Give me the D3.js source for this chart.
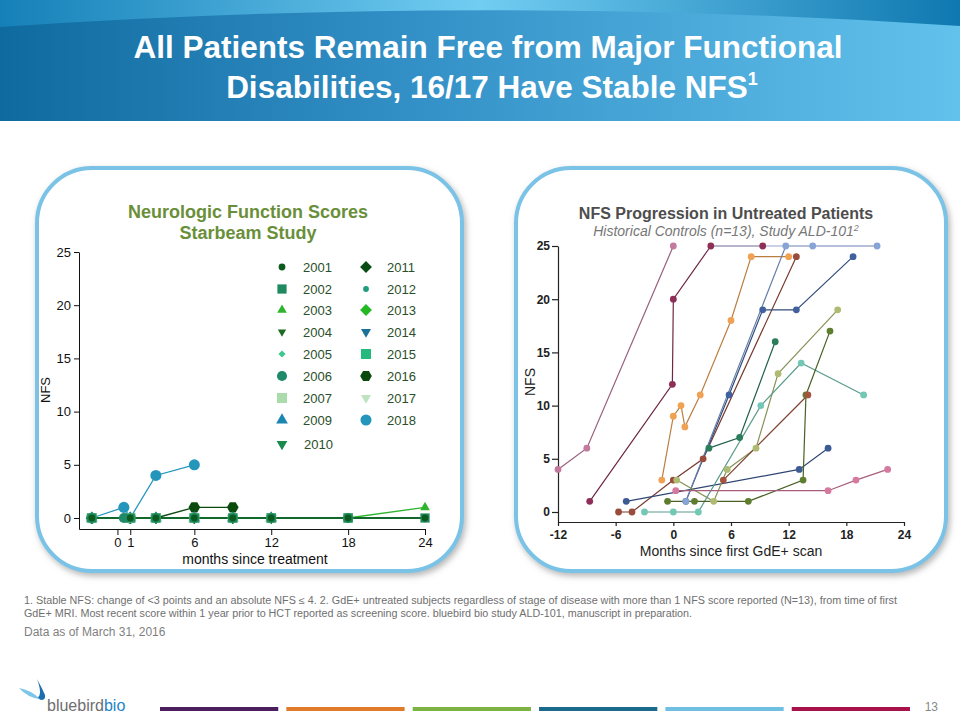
<!DOCTYPE html>
<html><head><meta charset="utf-8">
<script src="https://cdn.jsdelivr.net/npm/d3@7"></script>
<style>
body{margin:0;background:#fff;}
svg{display:block;font-family:"Liberation Sans",Arial,sans-serif;}
</style>
</head><body>
<svg id="c" width="960" height="720"></svg>
<script>
// ---------------- DATA ----------------
const titleLines = ["All Patients Remain Free from Major Functional", "Disabilities, 16/17 Have Stable NFS"];

// Left chart: Starbeam study
const patients = ["2001","2002","2003","2004","2005","2006","2007","2009","2010","2011","2012","2013","2014","2015","2016","2017","2018"];
const patientColors = ["#0b5b1e","#1f8a5f","#2db52d","#1b6b22","#3ec78e","#1e8a6a","#a9dcaa","#1b86b0","#1a8a4e","#0a4d12","#1f9c7c","#25b825","#1b7196","#25ba7d","#0a4a0e","#bfe3c0","#2496bc"];
const patientShapes = ["circle","square","triUp","triDown","diamond","circle","square","triUp","triDown","diamond","circle","diamond","triDown","square","hexagon","triDown","circle"];
const patientMarkerSizes = [36,85,40,30,26,80,100,60,50,70,26,70,44,100,88,44,96];
const patientMonths = [
  [-2,1,3,6,9,12,18,24],
  [-2,1,3,6,9,12,18,24],
  [-2,1,3,6,9,12,18,24],
  [-2,1,3,6,9,12,18,24],
  [-2,1,3,6,9,12,18],
  [-2,0.5,3,6,9,12,18],
  [-2,1,3,6,9,12,18],
  [-2,1,3,6,9,12],
  [-2,1,3,6,9,12],
  [-2,1,3,6,9,12],
  [-2,0.5,3,6,9,12],
  [-2,1,3,6,9],
  [-2,1,3,6,9],
  [-2,1,3,6],
  [-2,1,3,6,9],
  [-2,1,3,6],
  [-2,0.5,1,3,6]
];
const patientNFS = [
  [0,0,0,0,0,0,0,0],
  [0,0,0,0,0,0,0,0],
  [0,0,0,0,0,0,0,1],
  [0,0,0,0,0,0,0,0],
  [0,0,0,0,0,0,0],
  [0,0,0,0,0,0,0],
  [0,0,0,0,0,0,0],
  [0,0,0,0,0,0],
  [0,0,0,0,0,0],
  [0,0,0,0,0,0],
  [0,0,0,0,0,0],
  [0,0,0,0,0],
  [0,0,0,0,0],
  [0,0,0,0],
  [0,0,0,1,1],
  [0,0,0,0],
  [0,1,0,4,5]
];
const leftXTicks = [0,1,6,12,18,24];
const leftYTicks = [0,5,10,15,20,25];

// Right chart: untreated historical controls
const ctrlMonths = [
  [-12,-9,0],
  [-8.7,-0.1,0,3.9,9.3],
  [-1.2,0,0.8,1.2,2.8,6,8.1,12],
  [-5.7,-4.3,0,3.1,12.8],
  [-4.9,13.1,16.1],
  [1.3,5.8,9.3,12.8,18.7],
  [1.3,11.7,14.5,21.2],
  [3.7,6.9,10.6],
  [0.35,4.2,5.6,8.6,10.9,17.1],
  [-3,0,2.6,9.1,13.3,19.8],
  [-0.6,2.2,7.8,13.5,13.8,16.3],
  [5.2,14.0],
  [0.25,16.1,19.0,22.3]
];
const ctrlNFS = [
  [4,6,25],
  [1,12,20,25,25],
  [3,9,10,8,11,18,24,24],
  [0,0,3,5,24],
  [1,4,6],
  [1,11,19,19,24],
  [1,25,25,25],
  [6,7,16],
  [3,1,4,6,13,19],
  [0,0,0,10,14,11],
  [1,1,1,3,11,17],
  [3,11],
  [2,2,3,4]
];
const ctrlColors = ["#c27a9e","#8e2f58","#f0a254","#9a4c3c","#3c5a94","#41619e","#86a4d6","#2c7d5c","#aebb72","#72c8b4","#5e7d2e","#a5553d","#d6799f"];
const ceilingRange = [3.9, 21.2];
const rightXTicks = [-12,-6,0,6,12,18,24];
const rightYTicks = [0,5,10,15,20,25];

const footBars = ["#4b1f5e","#e07b2a","#7cb342","#1a6a8c","#6fbfe2","#a8124a"];

// ---------------- DRAW ----------------
const svg = d3.select("#c");
const defs = svg.append("defs");

const g1 = defs.append("linearGradient").attr("id","hdr").attr("x1","0").attr("x2","1").attr("y1","0").attr("y2","0");
g1.append("stop").attr("offset","0").attr("stop-color","#0f6a9f");
g1.append("stop").attr("offset","0.45").attr("stop-color","#3592c8");
g1.append("stop").attr("offset","1").attr("stop-color","#62c2ec");
const g2 = defs.append("linearGradient").attr("id","hdrTop").attr("x1","0").attr("x2","1").attr("y1","0").attr("y2","0");
g2.append("stop").attr("offset","0").attr("stop-color","#1580b8");
g2.append("stop").attr("offset","0.5").attr("stop-color","#72cdf2");
g2.append("stop").attr("offset","1").attr("stop-color","#0f78b0");

const sh = defs.append("filter").attr("id","shadow").attr("x","-10%").attr("y","-10%").attr("width","120%").attr("height","120%");
sh.append("feDropShadow").attr("dx",2).attr("dy",3).attr("stdDeviation",3).attr("flood-color","#777").attr("flood-opacity",0.55);

svg.append("rect").attr("x",0).attr("y",0).attr("width",960).attr("height",121).attr("fill","url(#hdr)");
svg.append("path").attr("d","M0,0 H960 V26 Q480,-6 0,27 Z").attr("fill","url(#hdrTop)");

const tt = svg.append("text").attr("text-anchor","middle").attr("fill","#fff").attr("font-weight","bold").attr("font-size",31.5);
tt.append("tspan").attr("x",488).attr("y",58).text(titleLines[0]);
const t2 = svg.append("text").attr("x",492).attr("y",98).attr("text-anchor","middle").attr("fill","#fff").attr("font-weight","bold").attr("font-size",31.5);
t2.append("tspan").text(titleLines[1]);
t2.append("tspan").attr("font-size",18).attr("dy",-13).text("1");

// panels
[[37,168,425,403],[516,168,430,403]].forEach(p=>{
  svg.append("rect").attr("x",p[0]).attr("y",p[1]).attr("width",p[2]).attr("height",p[3])
    .attr("rx",55).attr("ry",55).attr("fill","#fff").attr("stroke","#7ac3e6").attr("stroke-width",4)
    .attr("filter","url(#shadow)");
});

const hexType = {draw(ctx,size){const r=Math.sqrt(size/2.598);for(let i=0;i<6;i++){const a=i*Math.PI/3;const x=r*Math.cos(a),y=r*Math.sin(a);if(i===0)ctx.moveTo(x,y);else ctx.lineTo(x,y);}ctx.closePath();}};
function symPath(shape,size){
  if(shape==="circle") return d3.symbol(d3.symbolCircle,size)();
  if(shape==="square"||shape==="diamond") return d3.symbol(d3.symbolSquare,size)();
  if(shape==="triUp"||shape==="triDown") return d3.symbol(d3.symbolTriangle,size)();
  if(shape==="hexagon") return d3.symbol(hexType,size)();
}
function symRot(shape){ return shape==="diamond"?45:(shape==="triDown"?180:0); }
const plainFmt = d=>String(d);

// ---------- LEFT CHART ----------
const lx = d3.scaleLinear().domain([-3,24]).range([79,425]);
const ly = d3.scaleLinear().domain([-1.034,25]).range([529,252]);
const L = svg.append("g");
L.append("text").attr("x",248).attr("y",218).attr("text-anchor","middle").attr("font-weight","bold").attr("font-size",18).attr("fill","#6a8f3a").text("Neurologic Function Scores");
L.append("text").attr("x",248).attr("y",239).attr("text-anchor","middle").attr("font-weight","bold").attr("font-size",18).attr("fill","#6a8f3a").text("Starbeam Study");

const lya = L.append("g").attr("transform","translate(79,0)").call(d3.axisLeft(ly).tickValues(leftYTicks).tickFormat(plainFmt).tickSize(5).tickSizeOuter(0).tickPadding(3));
const lxa = L.append("g").attr("transform","translate(0,529)").call(d3.axisBottom(lx).tickValues(leftXTicks).tickFormat(plainFmt).tickSize(6).tickSizeOuter(0).tickPadding(3));
[lya,lxa].forEach(a=>{a.selectAll("text").attr("font-size",13).attr("fill","#111").attr("font-family","Liberation Sans, Arial, sans-serif");a.selectAll("line,path").attr("stroke","#111");});
L.append("text").attr("transform","translate(50,390) rotate(-90)").attr("text-anchor","middle").attr("font-size",13).attr("fill","#111").text("NFS");
L.append("text").attr("x",255).attr("y",564).attr("text-anchor","middle").attr("font-size",14).attr("fill","#111").text("months since treatment");

const lline = d3.line().x(d=>lx(d[0])).y(d=>ly(d[1]));
const order = d3.range(patients.length).reverse();
order.forEach(i=>{
  const pts = patientMonths[i].map((m,k)=>[m,patientNFS[i][k]]);
  L.append("path").attr("d",lline(pts)).attr("fill","none").attr("stroke",patientColors[i]).attr("stroke-width",1.3);
});
order.forEach(i=>{
  const pts = patientMonths[i].map((m,k)=>[m,patientNFS[i][k]]);
  L.selectAll(null).data(pts).enter().append("path")
    .attr("d",symPath(patientShapes[i],patientMarkerSizes[i]))
    .attr("transform",d=>`translate(${lx(d[0])},${ly(d[1])}) rotate(${symRot(patientShapes[i])})`)
    .attr("fill",patientColors[i]);
});

const legRowY = [267,289,310,332,354,376,398,420,444];
patients.forEach((p,i)=>{
  const col = i<9?0:1, row = i<9?i:i-9;
  const sx = col===0?282:366, tx = col===0?303:387;
  const y = legRowY[row];
  L.append("path").attr("d",symPath(patientShapes[i],patientMarkerSizes[i]))
    .attr("transform",`translate(${sx},${y}) rotate(${symRot(patientShapes[i])})`).attr("fill",patientColors[i]);
  L.append("text").attr("x",tx + (p==="2010"?1:0)).attr("y",y+5).attr("font-size",13).attr("fill","#2a4f2a").text(p);
});

// ---------- RIGHT CHART ----------
const rx = d3.scaleLinear().domain([-12,24]).range([558,904]);
const ry = d3.scaleLinear().domain([-0.94,25]).range([522,246]);
const R = svg.append("g");
R.append("text").attr("x",726).attr("y",219).attr("text-anchor","middle").attr("font-weight","bold").attr("font-size",16).attr("fill","#4d4d4d").text("NFS Progression in Untreated Patients");
const st = R.append("text").attr("x",726).attr("y",236).attr("text-anchor","middle").attr("font-style","italic").attr("font-size",14).attr("fill","#777");
st.append("tspan").text("Historical Controls (n=13), Study ALD-101");
st.append("tspan").attr("font-size",9).attr("dy",-5).text("2");

const rya = R.append("g").attr("transform","translate(558,0)").call(d3.axisLeft(ry).tickValues(rightYTicks).tickFormat(plainFmt).tickSize(6).tickSizeOuter(0).tickPadding(2));
const rxa = R.append("g").attr("transform","translate(0,522)").call(d3.axisBottom(rx).tickValues(rightXTicks).tickFormat(plainFmt).tickSize(4).tickSizeOuter(0).tickPadding(4));
[rya,rxa].forEach(a=>{a.selectAll("text").attr("font-size",12).attr("font-weight","bold").attr("fill","#222").attr("font-family","Liberation Sans, Arial, sans-serif");a.selectAll("line,path").attr("stroke","#222").attr("stroke-width",1.2);});
R.append("text").attr("transform","translate(535,382) rotate(-90)").attr("text-anchor","middle").attr("font-size",14).attr("fill","#222").text("NFS");
R.append("text").attr("x",731).attr("y",556).attr("text-anchor","middle").attr("font-size",14).attr("fill","#222").text("Months since first GdE+ scan");

const rline = d3.line().x(d=>rx(d[0])).y(d=>ry(d[1]));
ctrlMonths.forEach((ms,i)=>{
  const pts = ms.map((m,k)=>[m,ctrlNFS[i][k]]);
  R.append("path").attr("d",rline(pts)).attr("fill","none").attr("stroke",d3.color(ctrlColors[i]).darker(0.7)).attr("stroke-width",1.2);
});
R.append("path").attr("d",rline([[ceilingRange[0],25],[ceilingRange[1],25]])).attr("fill","none").attr("stroke","#b8c1dc").attr("stroke-width",1.5);
ctrlMonths.forEach((ms,i)=>{
  const pts = ms.map((m,k)=>[m,ctrlNFS[i][k]]);
  R.selectAll(null).data(pts).enter().append("circle")
    .attr("cx",d=>rx(d[0])).attr("cy",d=>ry(d[1])).attr("r",3.4).attr("fill",ctrlColors[i]);
});

// ---------- FOOTER ----------
const fn = svg.append("g").attr("fill","#6f6f6f").attr("font-size",10);
fn.append("text").attr("x",24).attr("y",604).attr("textLength",873).attr("lengthAdjust","spacingAndGlyphs")
  .text("1. Stable NFS:  change of <3 points and an absolute NFS ≤ 4. 2. GdE+ untreated subjects regardless of stage of disease with more than 1 NFS score reported (N=13), from time of first");
fn.append("text").attr("x",24).attr("y",617).attr("textLength",668).attr("lengthAdjust","spacingAndGlyphs")
  .text("GdE+ MRI.  Most recent score within 1 year prior to HCT  reported as screening score. bluebird bio study ALD-101, manuscript in  preparation.");
svg.append("text").attr("x",24).attr("y",636).attr("font-size",12).attr("fill","#7f7f7f").text("Data as of March 31, 2016");

svg.append("path").attr("d","M37,679 Q42,688 45,695 Q46,700 41,700 L37,698 Q43,695 37,679 Z").attr("fill","#1b6fae");
svg.append("path").attr("d","M19,688 Q31,690 40,699 Q28,698 19,688 Z").attr("fill","#7cc6ea");
const logo = svg.append("text").attr("x",47).attr("y",711).attr("font-size",16);
logo.append("tspan").attr("fill","#6d6e71").text("bluebird");
logo.append("tspan").attr("fill","#1e84c6").text("bio");

const barX = d3.scaleBand().domain(d3.range(footBars.length)).range([160,910]).paddingInner(0.064);
svg.selectAll(null).data(footBars).enter().append("rect")
  .attr("x",(d,i)=>barX(i)).attr("y",707).attr("width",barX.bandwidth()).attr("height",4).attr("fill",d=>d);
svg.append("text").attr("x",938).attr("y",711).attr("text-anchor","end").attr("font-size",12).attr("fill","#888").text("13");
</script>
</body></html>
